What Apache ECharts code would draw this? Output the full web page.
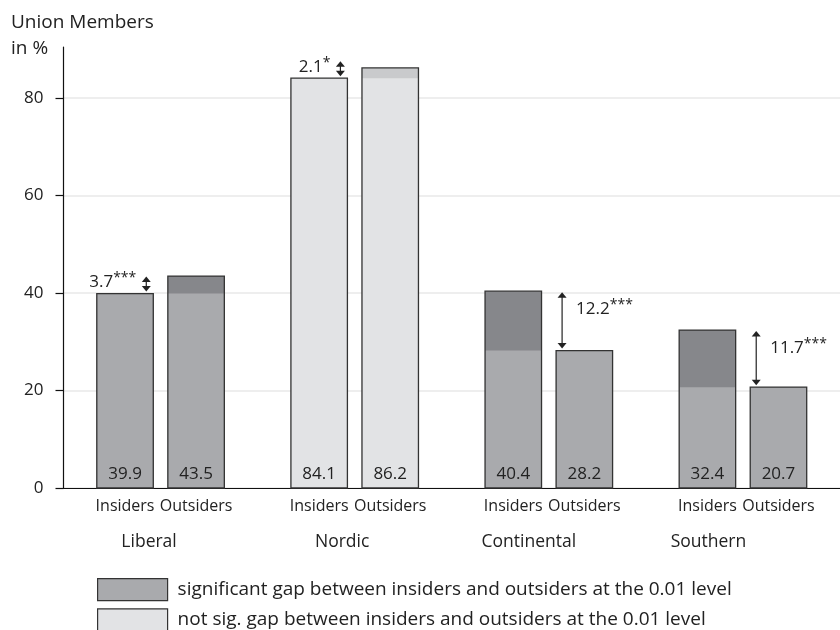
<!DOCTYPE html>
<html>
<head>
<meta charset="utf-8">
<script src="https://cdn.jsdelivr.net/npm/echarts@6/dist/echarts.min.js"></script>
<style>
  html, body { margin: 0; padding: 0; background: #fff; }
  #chart { width: 840px; height: 630px; }
</style>
</head>
<body>
<div id="chart"></div>
<script>
// Union membership of labour-market insiders and outsiders by welfare regime
const regimes = ['Liberal', 'Nordic', 'Continental', 'Southern'];
const insiders = [39.9, 84.1, 40.4, 32.4];
const outsiders = [43.5, 86.2, 28.2, 20.7];
const gapValues = ['3.7', '2.1', '12.2', '11.7'];
const gapStars = ['***', '*', '***', '***'];
const significant = [true, false, true, true];
const groupLabels = ['Insiders', 'Outsiders'];
const yTicks = [0, 20, 40, 60, 80];
const legendTexts = [
  'significant gap between insiders and outsiders at the 0.01 level',
  'not sig. gap between insiders and outsiders at the 0.01 level'
];

const FONT = '"Open Sans", "DejaVu Sans", sans-serif';
const INK = '#222';
const COLORS = {
  sigBase: '#a9aaad', sigTop: '#86878b',
  nsBase: '#e2e3e5', nsTop: '#c9cacc',
  edge: '#333'
};
// horizontal shift (px) of each regime name below the axis
const nameShift = [23, 25, 40, 69];

function renderRegime(params, api) {
  const i = api.value(0);
  const vIn = api.value(1);
  const vOut = api.value(2);
  const sig = significant[i];
  const base = sig ? COLORS.sigBase : COLORS.nsBase;
  const topC = sig ? COLORS.sigTop : COLORS.nsTop;
  const origin = api.coord([i, 0]);
  const cx = origin[0];
  const y0 = origin[1];
  const band = api.size([1, 0])[0];
  const bw = band * 0.291;
  const gap = band * 0.075;
  const lower = Math.min(vIn, vOut);
  const upper = Math.max(vIn, vOut);
  const yLow = api.coord([i, lower])[1];
  const centers = [cx - (bw + gap) / 2, cx + (bw + gap) / 2];
  const children = [];

  [vIn, vOut].forEach((v, k) => {
    const xc = centers[k];
    const x0 = xc - bw / 2;
    const yV = api.coord([i, v])[1];
    children.push({ type: 'rect', shape: { x: x0, y: yV, width: bw, height: y0 - yV }, style: { fill: topC } });
    children.push({ type: 'rect', shape: { x: x0, y: yLow, width: bw, height: y0 - yLow }, style: { fill: base } });
    children.push({ type: 'rect', shape: { x: x0, y: yV, width: bw, height: y0 - yV },
      style: { fill: 'none', stroke: COLORS.edge, lineWidth: 1.3 } });
    children.push({ type: 'text', x: xc, y: y0 - 14,
      style: { text: v.toFixed(1), align: 'center', verticalAlign: 'middle',
        fontFamily: FONT, fontSize: 17, fill: INK } });
    children.push({ type: 'text', x: xc, y: y0 + 18,
      style: { text: groupLabels[k], align: 'center', verticalAlign: 'middle',
        fontFamily: FONT, fontSize: 16, fill: INK } });
  });

  // double-headed arrow marking the insider/outsider gap
  const inLower = vIn <= vOut;
  const ax = inLower ? centers[0] + bw / 2 - 7 : centers[1] - bw / 2 + 6;
  const yB = yLow - 2;
  let yT = api.coord([i, upper])[1] + 1;
  if (yB - yT < 15) yT = yB - 15;
  const head = 5.5, hw = 4.5;
  children.push({ type: 'line', shape: { x1: ax, y1: yT + head - 1, x2: ax, y2: yB - head + 1 },
    style: { stroke: INK, lineWidth: 1.2 } });
  children.push({ type: 'polygon', shape: { points: [[ax, yT], [ax - hw, yT + head], [ax + hw, yT + head]] },
    style: { fill: INK } });
  children.push({ type: 'polygon', shape: { points: [[ax, yB], [ax - hw, yB - head], [ax + hw, yB - head]] },
    style: { fill: INK } });

  const gapText = '{n|' + gapValues[i] + '}{s|' + gapStars[i] + '}';
  const rich = {
    n: { fontFamily: FONT, fontSize: 17, fill: INK },
    s: { fontFamily: FONT, fontSize: 14, fill: INK, padding: [0, 0, 8, 0] }
  };
  if (inLower) {
    children.push({ type: 'text', x: ax - 10, y: (yT + yB) / 2 - 2,
      style: { text: gapText, rich: rich, align: 'right', verticalAlign: 'middle' } });
  } else {
    children.push({ type: 'text', x: ax + 14, y: yT + 17,
      style: { text: gapText, rich: rich, align: 'left', verticalAlign: 'middle' } });
  }

  return { type: 'group', children: children };
}

const regimeData = regimes.map((r, i) => [i, insiders[i], outsiders[i]]);

const nameRich = {};
nameShift.forEach((s, i) => {
  nameRich['c' + i] = { fontFamily: FONT, fontSize: 17.5, color: INK, padding: [0, s, 0, 0], align: 'center' };
});

const legendColors = [COLORS.sigBase, COLORS.nsBase];

const chart = echarts.init(document.getElementById('chart'), null, { renderer: 'canvas' });
chart.setOption({
  animation: false,
  backgroundColor: '#fff',
  grid: { left: 63.5, right: -6.5, top: 47, bottom: 142, containLabel: false },
  graphic: [{
    type: 'text', left: 11, top: 10,
    style: { text: 'Union Members\nin %', fontFamily: FONT, fontSize: 19, lineHeight: 26, fill: INK }
  }],
  legend: {
    orient: 'vertical', left: 97, top: 578, padding: 0, height: 60,
    itemWidth: 70, itemHeight: 22, itemGap: 7,
    icon: 'rect', selectedMode: false,
    textStyle: { fontFamily: FONT, fontSize: 19, color: INK, padding: [0, 0, 0, 5] },
    data: legendTexts.map((t, k) => ({
      name: t,
      itemStyle: { color: legendColors[k], borderColor: '#333', borderWidth: 1.2, opacity: 1 }
    }))
  },
  xAxis: {
    type: 'category',
    data: regimes,
    axisLine: { lineStyle: { color: '#111', width: 1.2 } },
    axisTick: { show: false },
    splitLine: { show: false },
    axisLabel: {
      margin: 45,
      formatter: (v, i) => '{c' + i + '|' + v + '}',
      rich: nameRich
    }
  },
  yAxis: {
    type: 'value',
    min: 0, max: 90.5, interval: 20,
    axisLine: { show: true, lineStyle: { color: '#111', width: 1.2 } },
    axisTick: { show: true, length: 8, customValues: yTicks, lineStyle: { color: '#111', width: 1.2 } },
    axisLabel: { customValues: yTicks, margin: 20, fontFamily: FONT, fontSize: 17, color: INK },
    splitLine: { show: true, lineStyle: { color: '#eeeeee', width: 2 } }
  },
  series: [
    {
      type: 'custom',
      name: 'regimes',
      renderItem: renderRegime,
      encode: { x: 0, y: [1, 2] },
      clip: false,
      silent: true,
      data: regimeData,
      z: 3
    },
    { type: 'bar', name: legendTexts[0], data: [], itemStyle: { color: COLORS.sigBase } },
    { type: 'bar', name: legendTexts[1], data: [], itemStyle: { color: COLORS.nsBase } }
  ]
});
</script>
</body>
</html>
